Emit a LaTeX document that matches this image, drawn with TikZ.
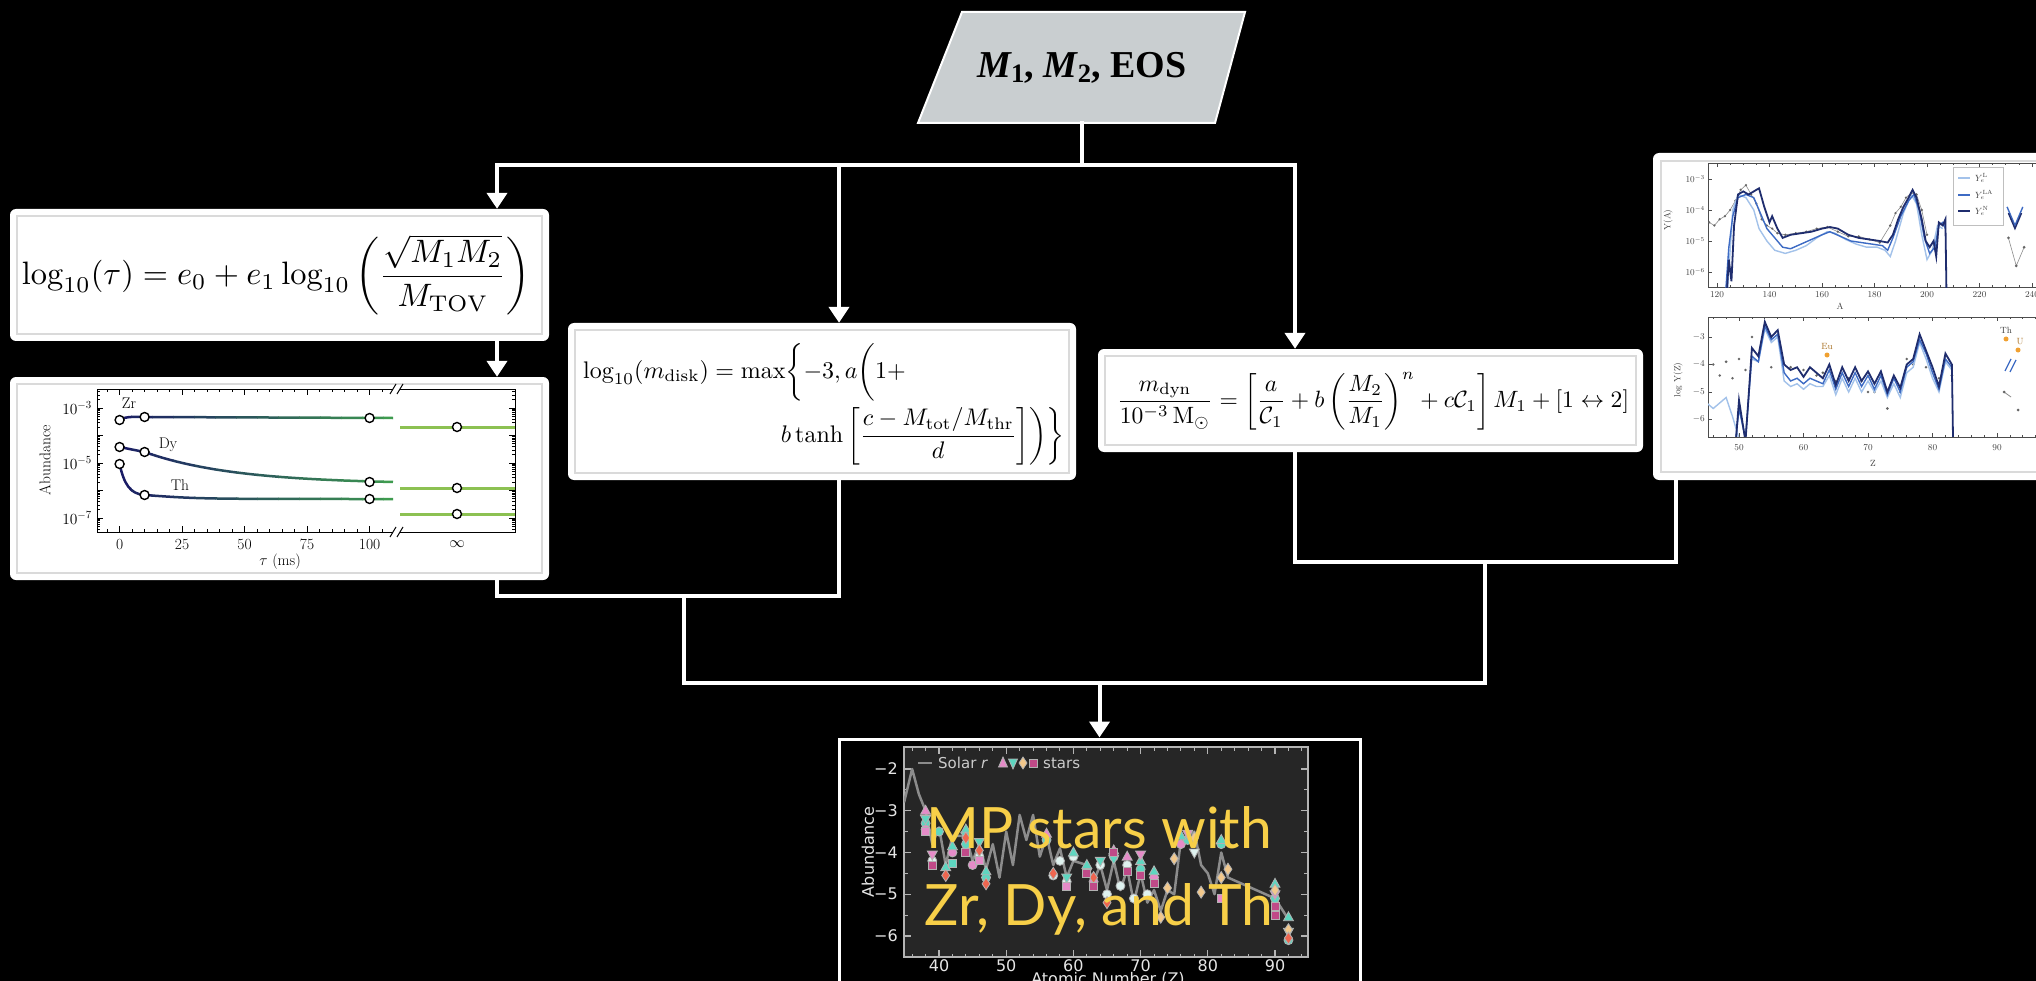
\RequirePackage{fix-cm}
\documentclass[tikz,border=0pt]{standalone}
\usepackage{fontspec}
\usepackage{graphicx}
\usetikzlibrary{arrows.meta,calc}
\newfontfamily\tnr{Liberation Serif}
\newfontfamily\gill{Lato}
\newfontfamily\dvs{DejaVu Sans}
\definecolor{pgray}{HTML}{C9CED0}
\definecolor{framegray}{HTML}{DADADA}
\definecolor{navyC}{HTML}{1A1C66}
\definecolor{grnC}{HTML}{3E9B4F}
\definecolor{ltgrn}{HTML}{8CC152}
\definecolor{mpy}{HTML}{F7CF48}
\definecolor{plotbg}{HTML}{262626}
\definecolor{axgray}{HTML}{B4B4B4}
\definecolor{solar}{HTML}{8C8C8C}
\definecolor{mpink}{HTML}{E58BC8}
\definecolor{mteal}{HTML}{5ED6C0}
\definecolor{mred}{HTML}{EE6650}
\definecolor{mcream}{HTML}{F2C88C}
\definecolor{mmauve}{HTML}{C04A88}
\definecolor{mwhite}{HTML}{DFF2EF}
\definecolor{bdark}{HTML}{1F2D6E}
\definecolor{bmed}{HTML}{3D6BC4}
\definecolor{blight}{HTML}{A3C2EA}
\definecolor{eu}{HTML}{F0A030}
\tikzset{
  conn/.style={draw=white,line width=4pt,line cap=rect,line join=miter},
  arr/.style={conn,-{Triangle[width=20pt,length=16pt]}},
  wbox/.style={fill=white,rounded corners=6pt,inner sep=0pt},
  iframe/.style={draw=framegray,line width=1.5pt},
  tk/.style={line width=0.8pt},
  circ/.style={fill=white,draw=black,line width=1.4pt},
  lbl/.style={inner sep=0pt,font=\fontsize{15.5}{18}\selectfont},
  tiny/.style={inner sep=0pt,text=black!75,font=\fontsize{9}{10}\selectfont},
  dlbl/.style={inner sep=0pt,text=black!10,font=\dvs\fontsize{16}{18}\selectfont},
  mk/.style={line width=0.8pt,draw=white!70!black}
}
\newcommand\bcurves{(119.6,420) .. controls (126,416) and (135,417) .. (144.6,417) -- (393,418)
  (119.6,447) -- (144.6,452) -- plot[domain=144.6:393,samples=40] (\x,{484-32*exp(-(\x-144.6)/90)})
  (119.6,464) .. controls (124,484) and (130,494) .. (144.6,495) .. controls (200,499) .. (393,499)}
\begin{document}
\begin{tikzpicture}[x=1pt,y=-1pt]
\useasboundingbox (0,0) rectangle (2036,981);
\fill[black] (0,0) rectangle (2036,981);

% ---------- input parallelogram ----------
\filldraw[fill=pgray,draw=white,line width=2pt] (918,123) -- (962,12) -- (1245,12) -- (1215,123) -- cycle;
\node[inner sep=0pt,minimum height=111pt,font=\tnr\fontsize{38}{44}\selectfont\bfseries] (in) at (1082,67.5)
  {\itshape M\upshape\textsubscript{1}, \itshape M\upshape\textsubscript{2}, EOS};

% ---------- boxes ----------
\node[wbox,minimum width=539pt,minimum height=132pt] (b1) at (279.5,275) {};
\node[wbox,minimum width=539pt,minimum height=203pt] (b2) at (279.5,478.5) {};
\node[wbox,minimum width=508pt,minimum height=157pt] (b3) at (822,401.5) {};
\node[wbox,minimum width=545pt,minimum height=103pt] (b4) at (1370.5,400.5) {};
\node[wbox,minimum width=407pt,minimum height=327pt] (b5) at (1856.5,316.5) {};
\node[draw=white,line width=3pt,fill=black,inner sep=0pt,minimum width=521pt,minimum height=261pt] (b6) at (1099.5,869.5) {};
\foreach \b in {b1,b2,b3,b4}
  \draw[iframe] ($(\b.south west)+(7pt,7pt)$) rectangle ($(\b.north east)+(-7pt,-7pt)$);

% ---------- equations ----------
\node[inner sep=0pt] (eq1) at (276,275) {\resizebox{508pt}{!}{$\displaystyle\log_{10}(\tau)=e_0+e_1\log_{10}\left(\frac{\sqrt{M_1M_2}}{M_{\mathrm{TOV}}}\right)$}};
\node[inner sep=0pt,anchor=base west] (eq3a) at (583,378) {\scalebox{2.4}{$\displaystyle\log_{10}(m_{\rm disk})=\max\biggl\{-3,a\biggl(1+$}};
\node[inner sep=0pt,anchor=base east] (eq3b) at (1065,442) {\scalebox{2.4}{$\displaystyle b\tanh\left[\frac{c-M_{\rm tot}/M_{\rm thr}}{d}\right]\biggr)\biggr\}$}};
\node[inner sep=0pt] (eq4) at (1373,401) {\resizebox{512pt}{!}{$\displaystyle\frac{m_{\rm dyn}}{10^{-3}\,\mathrm{M}_\odot}=\left[\frac{a}{\mathcal{C}_1}+b\left(\frac{M_2}{M_1}\right)^{n}+c\mathcal{C}_1\right]M_1+[1\leftrightarrow2]$}};

% ---------- box 2 plot ----------
\draw[tk,line width=1pt] (393,389) -- (97,389) -- (97,532) -- (393,532);
\draw[tk,line width=1pt] (400,389) -- (515,389) -- (515,532) -- (400,532);
\foreach \xx in {393,400} \foreach \yy in {389,532} \draw[line width=1pt] (\xx-3,\yy+5) -- (\xx+3,\yy-5);
\foreach \t in {0,25,...,100} {\draw[tk] ({119.6+2.5*\t},532) -- ++(0,-6); \draw[tk] ({119.6+2.5*\t},389) -- ++(0,6);}
\foreach \t in {-5,0,...,105} {\draw[tk] ({119.6+2.5*\t},532) -- ++(0,-3); \draw[tk] ({119.6+2.5*\t},389) -- ++(0,3);}
\foreach \L in {-3,-4,-5,-6,-7} {\draw[tk] (97,{408-27.5*(\L+3)}) -- ++(6,0); \draw[tk] (515,{408-27.5*(\L+3)}) -- ++(-6,0);}
\begin{scope}
\clip (97,389) rectangle (515,532);
\foreach \L in {-3,-4,-5,-6,-7,-8} \foreach \m in {2,...,9} {
  \pgfmathsetmacro\yy{408-27.5*(\L+log10(\m)+3)}
  \draw[tk,line width=0.6pt] (97,\yy) -- ++(3,0);
  \draw[tk,line width=0.6pt] (515,\yy) -- ++(-3,0);
}
\end{scope}
\foreach \L/\s in {-3/408,-5/463,-7/518} \node[lbl,anchor=east] at (92,\s) {$10^{\L}$};
\foreach \t in {0,25,50,75,100} \node[lbl] at ({119.6+2.5*\t},544) {\t};
\node[lbl] at (457,544) {$\infty$};
\node[lbl] at (280,562) {$\tau$ (ms)};
\node[lbl,rotate=90] at (45,460) {Abundance};
\foreach \i in {0,...,13} {
  \pgfmathsetmacro\xa{110+\i*21}
  \pgfmathsetmacro\pc{\i*100/13}
  \begin{scope}
    \clip (\xa,380) rectangle ({\xa+21.5},540);
    \draw[grnC!\pc!navyC,line width=2.5pt] \bcurves;
  \end{scope}
}
\foreach \yy in {427,488,514} \draw[ltgrn,line width=3pt] (400,\yy) -- (515,\yy);
\foreach \p in {(119.6,420),(144.6,417),(369.6,418),(119.6,447),(144.6,452),(369.6,482),(119.6,464),(144.6,495),(369.6,499),(457,427),(457,488),(457,514)}
  \draw[circ] \p circle[radius=4.5pt];
\node[lbl] at (129,403) {Zr};
\node[lbl] at (168,445) {Dy};
\node[lbl] at (180,485) {Th};

% ---------- box 5 plot ----------
\begin{scope}
\clip (1650,150) rectangle (2036,484);
\draw[iframe] (1661,161) rectangle (2060,472);
\begin{scope}[x=2.625pt,y=31pt,xshift=1402pt,yshift=-86pt]
  \draw[tk,black!70] (250,-2.484) -- (116.57,-2.484) -- (116.57,-6.484) -- (250,-6.484);
  \foreach \a in {120,140,...,240} {\draw[tk,black!70] (\a,-6.484) -- ++(0,4pt); \draw[tk,black!70] (\a,-2.484) -- ++(0,-4pt);
     \node[tiny] at ($(\a,-6.484)+(0,-8pt)$) {\a};}
  \foreach \a in {120,125,...,245} {\draw[tk,black!70] (\a,-6.484) -- ++(0,2pt); \draw[tk,black!70] (\a,-2.484) -- ++(0,-2pt);}
  \foreach \l in {-3,-4,-5,-6} {\draw[tk,black!70] (116.57,\l) -- ++(4pt,0); \node[tiny,anchor=east] at ($(116.57,\l)+(-3pt,0)$) {$10^{\l}$};}
  \begin{scope}
  \clip (116.57,-2.484) rectangle (250,-6.484);
  \draw[solar,line width=0.6pt] plot coordinates {(117,-4.4) (119,-4.5) (121,-4.3) (123,-4.2) (125,-4.0) (127,-3.7) (129,-3.35) (131,-3.2) (133,-3.5) (135,-3.8) (137,-4.3) (139,-4.5) (141,-4.6) (143,-4.75) (146,-4.8) (150,-4.75) (154,-4.7) (158,-4.6) (162,-4.55) (166,-4.7) (170,-4.85) (174,-4.85) (178,-4.95) (182,-5.05) (186,-4.5) (188,-4.1) (190,-3.9) (192,-3.6) (194,-3.45) (196,-3.5) (198,-4.0) (200,-4.8)};
  \foreach \p in {(117,-4.4),(119,-4.5),(121,-4.3),(123,-4.2),(125,-4.0),(127,-3.7),(129,-3.35),(131,-3.2),(133,-3.5),(135,-3.8),(137,-4.3),(139,-4.5),(141,-4.6),(143,-4.75),(146,-4.8),(150,-4.75),(154,-4.7),(158,-4.6),(162,-4.55),(166,-4.7),(170,-4.85),(174,-4.85),(178,-4.95),(182,-5.05),(186,-4.5),(188,-4.1),(190,-3.9),(192,-3.6),(194,-3.45),(196,-3.5),(198,-4.0),(200,-4.8)}
    \fill[black!60] \p circle[radius=1.3pt];
  \draw[blight,line width=1.4pt] plot coordinates {(124,-6.6) (126,-4) (128,-3.5) (131,-3.6) (134,-4.0) (136,-4.6) (139,-5.0) (142,-5.3) (146,-5.4) (150,-5.3) (154,-5.15) (158,-4.9) (162,-4.7) (165,-4.75) (169,-4.95) (173,-5.1) (177,-5.2) (181,-5.2) (184,-5.3) (186,-5.5) (188,-5.0) (191,-4.1) (194,-3.5) (196,-3.8) (198,-4.8) (200,-5.6) (202,-5.3) (204,-4.5) (206,-4.6)};
  \draw[bmed,line width=1.4pt] plot coordinates {(123,-7) (124.5,-5.2) (126,-4.2) (128,-3.6) (131,-3.5) (134,-3.6) (137,-4.2) (139,-4.6) (142,-4.9) (145,-5.2) (148,-5.25) (152,-5.1) (156,-4.95) (160,-4.8) (163,-4.7) (167,-4.85) (171,-5.0) (175,-5.05) (179,-5.1) (183,-5.15) (185,-5.3) (187,-4.9) (190,-4.2) (193,-3.7) (195,-3.5) (197,-4.0) (199,-4.9) (201,-5.4) (203,-5.2) (204.5,-4.5) (206,-4.4) (207,-4.6)};
  \draw[bdark,line width=1.8pt] plot coordinates {(123.5,-7.0) (124.5,-5.6) (125.5,-6.3) (126.5,-4.5) (128,-3.5) (130,-3.4) (132,-3.5) (134,-3.4) (136,-3.3) (138,-3.9) (140,-4.4) (141,-4.2) (143,-4.6) (145,-4.9) (148,-4.8) (152,-4.75) (156,-4.7) (160,-4.6) (163,-4.55) (166,-4.6) (170,-4.8) (174,-4.9) (178,-4.95) (182,-5.0) (185,-5.05) (187,-4.8) (189,-4.3) (191,-3.9) (193,-3.6) (194.5,-3.35) (196,-3.6) (198,-4.3) (199.5,-5.0) (201,-5.2) (202.5,-5.0) (203.5,-5.5) (204.5,-4.4) (206,-4.5) (207,-4.3) (207.5,-7.2)};
  \draw[bmed,line width=1.4pt] plot coordinates {(230.5,-3.9) (233.5,-4.5) (236.5,-3.9)};
  \draw[bdark,line width=1.4pt] plot coordinates {(231,-4.1) (233.5,-4.6) (236,-4.1)};
  \draw[solar,line width=0.6pt] plot coordinates {(231,-4.9) (234,-5.8) (237,-5.2)};
  \foreach \p in {(231,-4.9),(234,-5.8),(237,-5.2)} \fill[black!60] \p circle[radius=1.5pt];
  \end{scope}
\end{scope}
\node[tiny] at (1840,306) {A};
\node[tiny,rotate=90] at (1668,220) {Y(A)};
\draw[fill=white,draw=black!25,line width=0.6pt] (1953,167) rectangle (2003,225);
\draw[blight,line width=1.2pt] (1958,178) -- (1970,178);
\draw[bmed,line width=1.6pt] (1958,195) -- (1970,195);
\draw[bdark,line width=2pt] (1958,211) -- (1970,211);
\node[tiny,anchor=west] at (1975,178) {$Y_e^{\rm L}$};
\node[tiny,anchor=west] at (1975,195) {$Y_e^{\rm LA}$};
\node[tiny,anchor=west] at (1975,211) {$Y_e^{\rm N}$};
\begin{scope}[x=6.45pt,y=27.5pt,xshift=1416.5pt,yshift=-254.5pt]
  \draw[tk,black!70] (100,-2.273) -- (45.19,-2.273) -- (45.19,-6.636) -- (100,-6.636);
  \foreach \z in {50,60,...,90} {\draw[tk,black!70] (\z,-6.636) -- ++(0,4pt); \draw[tk,black!70] (\z,-2.273) -- ++(0,-4pt);
     \node[tiny] at ($(\z,-6.636)+(0,-11pt)$) {\z};}
  \foreach \z in {46,48,...,98} {\draw[tk,black!70] (\z,-6.636) -- ++(0,2pt); \draw[tk,black!70] (\z,-2.273) -- ++(0,-2pt);}
  \foreach \l in {-3,-4,-5,-6} {\draw[tk,black!70] (45.19,\l) -- ++(4pt,0); \node[tiny,anchor=east] at ($(45.19,\l)+(-3pt,0)$) {$\l$};}
  \begin{scope}
  \clip (45.19,-2.273) rectangle (100,-6.636);
  \foreach \p in {(46,-4.0),(47,-4.4),(48,-3.9),(49,-4.5),(50,-3.8),(51,-4.2),(52,-3.0),(55,-4.1),(56,-3.0),(58,-4.1),(60,-4.2),(62,-4.4),(63,-4.3),(65,-4.6),(67,-4.5),(69,-4.6),(70,-5.0),(71,-5.0),(73,-5.6),(75,-5.0),(76,-3.8),(77,-4.0),(79,-4.1),(81,-4.5),(82,-3.7),(83,-4.4)}
    \fill[black!60] \p circle[radius=1.4pt];
  \draw[blight,line width=1.4pt] plot coordinates {(45,-5.4) (46,-5.6) (47,-5.4) (48,-5.2) (49,-5.9) (50,-6.7)};
  \draw[blight,line width=1.4pt] plot coordinates {(52,-3.8) (53,-3.9) (54,-2.7) (55,-3.2) (56,-3.0) (57,-4.6) (58,-4.8) (59,-4.7) (60,-4.9) (61,-4.7) (62,-4.8) (63,-4.8) (64,-4.4) (65,-5.1) (66,-4.5) (67,-5.0) (68,-4.5) (69,-5.0) (70,-4.6) (71,-5.0) (72,-4.6) (73,-5.2) (74,-4.7) (75,-5.2) (76,-4.3) (77,-4.1) (78,-3.2) (79,-3.8) (80,-4.5) (81,-5.0) (82,-3.9) (83,-4.2)};
  \draw[bmed,line width=1.4pt] plot coordinates {(49.5,-6.7) (50,-5.6) (51,-6.7) (52,-3.7) (53,-3.9) (54,-2.6) (55,-3.1) (56,-2.9) (57,-4.3) (58,-4.6) (59,-4.5) (60,-4.7) (61,-4.5) (62,-4.6) (63,-4.7) (64,-4.2) (65,-4.9) (66,-4.3) (67,-4.8) (68,-4.3) (69,-4.8) (70,-4.4) (71,-4.9) (72,-4.4) (73,-5.1) (74,-4.5) (75,-5.0) (76,-4.1) (77,-3.9) (78,-3.1) (79,-3.6) (80,-4.3) (81,-4.9) (82,-3.8) (83,-4.1)};
  \draw[bdark,line width=1.8pt] plot coordinates {(49.5,-6.8) (50,-5.3) (51,-6.8) (52,-3.4) (53,-3.7) (54,-2.45) (55,-3.0) (56,-2.75) (57,-4.0) (58,-4.2) (59,-4.1) (60,-4.45) (61,-4.1) (62,-4.3) (63,-4.5) (64,-4.0) (65,-4.75) (66,-4.1) (67,-4.6) (68,-4.1) (69,-4.6) (70,-4.25) (71,-4.7) (72,-4.25) (73,-5.0) (74,-4.4) (75,-4.85) (76,-4.0) (77,-3.8) (78,-2.9) (79,-3.5) (80,-4.1) (81,-4.8) (82,-3.6) (83,-4.0) (83.2,-7.0)};
  \end{scope}
\end{scope}
\node[tiny] at (1873,463) {Z};
\node[tiny,rotate=90] at (1678,380) {log Y(Z)};
\fill[eu] (1827,355) circle[radius=2.5pt];
\node[tiny,text=eu!70!black] at (1827,346) {Eu};
\fill[eu] (2006,339) circle[radius=2.5pt];
\node[tiny] at (2006,330) {Th};
\fill[eu] (2018,350) circle[radius=2.5pt];
\node[tiny,text=eu!70!black] at (2020,342) {U};
\draw[bmed,line width=1.2pt] (2005,371) -- (2011,359) (2010,372) -- (2016,360);
\draw[solar,line width=0.8pt] (2004,392) -- (2011,397);
\fill[black!60] (2004,392) circle[radius=1.5pt] (2018,410) circle[radius=1.5pt];
\end{scope}

% ---------- box 6 plot ----------
\begin{scope}
\clip (841,741) rectangle (1358,981);
\begin{scope}[x=6.72pt,y=41.75pt,xshift=670.2pt,yshift=-685.5pt]
  \fill[plotbg] (34.79,-1.473) rectangle (94.9,-6.503);
  \draw[axgray,line width=1.5pt] (34.79,-1.473) rectangle (94.9,-6.503);
  \foreach \z in {40,50,...,90} {\draw[axgray,line width=1.2pt] (\z,-6.503) -- ++(0,7pt); \draw[axgray,line width=1.2pt] (\z,-1.473) -- ++(0,-7pt);}
  \foreach \z in {36,38,...,94} {\draw[axgray,line width=1pt] (\z,-6.503) -- ++(0,3.5pt); \draw[axgray,line width=1pt] (\z,-1.473) -- ++(0,-3.5pt);}
  \foreach \l in {-2,-3,-4,-5,-6} {\draw[axgray,line width=1.2pt] (34.79,\l) -- ++(7pt,0); \draw[axgray,line width=1.2pt] (94.9,\l) -- ++(-7pt,0);}
  \foreach \l in {-2.5,-3.5,-4.5,-5.5} {\draw[axgray,line width=1pt] (34.79,\l) -- ++(3.5pt,0); \draw[axgray,line width=1pt] (94.9,\l) -- ++(-3.5pt,0);}
  \foreach \l/\t in {-2/−2,-3/−3,-4/−4,-5/−5,-6/−6} \node[dlbl,anchor=east] at ($(34.79,\l)+(-6pt,0)$) {\t};
  \foreach \z in {40,50,...,90} \node[dlbl] at ($(\z,-6.503)+(0,-9pt)$) {\z};
  \begin{scope}
  \clip (34.79,-1.473) rectangle (94.9,-6.503);
  \draw[solar,line width=2.5pt,line join=round] plot coordinates {(34.8,-2.8) (36,-2.0) (37,-2.6) (38,-3.0) (39,-3.8) (40,-3.4) (41,-4.3) (42,-3.6) (44,-3.6) (45,-4.2) (46,-3.8) (47,-4.4) (48,-3.8) (49,-4.6) (50,-3.5) (51,-4.3) (52,-3.1) (53,-3.7) (54,-3.1) (55,-4.1) (56,-3.6) (57,-4.3) (58,-3.9) (59,-4.6) (60,-4.2) (62,-4.3) (63,-4.7) (64,-4.3) (65,-4.9) (66,-4.2) (67,-4.9) (68,-4.4) (69,-5.2) (70,-4.5) (71,-5.2) (72,-4.9) (73,-5.4) (74,-4.9) (75,-5.0) (76,-3.7) (77,-3.6) (78,-3.5) (79,-4.3) (80,-4.5) (81,-5.0) (82,-4.0) (83,-4.6) (90,-5.1) (92,-5.6)};
  % circles
  \foreach \z/\l/\c in {38/-3.3/mteal,38/-3.45/mpink,39/-4.2/mwhite,40/-3.5/mteal,42/-4.0/mpink,44/-3.8/mteal,45/-4.3/mpink,46/-4.1/mwhite,47/-4.6/mteal,56/-3.7/mteal,57/-4.55/mwhite,58/-4.2/mwhite,59/-4.7/mwhite,60/-4.1/mwhite,62/-4.4/mwhite,63/-4.7/mpink,64/-4.3/mwhite,65/-5.0/mwhite,66/-4.1/mteal,67/-4.8/mwhite,68/-4.3/mwhite,69/-5.1/mwhite,70/-4.4/mteal,71/-5.0/mwhite,72/-4.6/mpink,76/-3.8/mpink,77/-3.7/mteal,82/-3.8/mteal,90/-5.1/mteal,92/-6.1/mteal}
    \filldraw[mk,fill=\c] (\z,\l) circle[radius=4.5pt];
  % up triangles
  \foreach \z/\l/\c in {38/-3.0/mpink,41/-4.35/mteal,42/-3.85/mteal,44/-3.45/mteal,47/-4.45/mteal,56/-3.55/mpink,60/-4.0/mteal,62/-4.3/mteal,66/-3.95/mpink,68/-4.1/mpink,70/-4.2/mteal,72/-4.45/mteal,76/-3.6/mteal,82/-3.7/mteal,90/-4.75/mteal,92/-5.55/mteal}
    \filldraw[mk,fill=\c,shift={(\z,\l)}] (0pt,5.5pt) -- (-5pt,-3.5pt) -- (5pt,-3.5pt) -- cycle;
  % down triangles
  \foreach \z/\l/\c in {38/-3.2/mteal,39/-4.05/mpink,44/-3.6/mteal,46/-3.75/mteal,59/-4.6/mteal,64/-4.2/mteal,66/-4.15/mteal,70/-4.05/mpink,77/-3.55/mpink,78/-4.0/mwhite,90/-5.0/mpink,92/-5.9/mteal}
    \filldraw[mk,fill=\c,shift={(\z,\l)}] (0pt,-5.5pt) -- (-5pt,3.5pt) -- (5pt,3.5pt) -- cycle;
  % diamonds
  \foreach \z/\l/\c in {41/-4.55/mred,44/-3.65/mred,46/-3.95/mred,47/-4.75/mred,65/-5.2/mred,73/-5.55/mcream,74/-4.85/mcream,75/-4.15/mcream,78/-3.65/mcream,79/-4.95/mcream,82/-4.6/mcream,83/-4.4/mcream,90/-4.9/mcream,92/-5.85/mcream,92/-6.05/mred,63/-4.6/mred,57/-4.5/mred}
    \filldraw[mk,fill=\c,shift={(\z,\l)}] (0pt,6pt) -- (-4pt,0pt) -- (0pt,-6pt) -- (4pt,0pt) -- cycle;
  % squares
  \foreach \z/\l/\c in {38/-3.5/mpink,39/-4.3/mmauve,42/-4.25/mteal,44/-4.0/mmauve,46/-4.2/mpink,63/-4.8/mmauve,66/-4.0/mmauve,68/-4.45/mmauve,70/-4.55/mmauve,72/-4.75/mmauve,82/-5.1/mpink,90/-5.3/mmauve,90/-5.5/mmauve,59/-4.8/mpink,62/-4.5/mmauve}
    \filldraw[mk,fill=\c,shift={(\z,\l)}] (-4pt,-4pt) rectangle (4pt,4pt);
  \end{scope}
\end{scope}
\draw[solar,line width=2.5pt] (918,763) -- (932,763);
\node[dlbl,anchor=west,text=black!20,font=\dvs\fontsize{15}{17}\selectfont] at (938,763) {Solar \textit{r}};
\filldraw[mk,fill=mpink] (1003,757) -- (998.5,767) -- (1007.5,767) -- cycle;
\filldraw[mk,fill=mteal] (1013,769) -- (1008.5,759) -- (1017.5,759) -- cycle;
\filldraw[mk,fill=mcream] (1023,757) -- (1019,763) -- (1023,769) -- (1027,763) -- cycle;
\filldraw[mk,fill=mmauve] (1029,759) rectangle (1037,767);
\node[dlbl,anchor=west,text=black!20,font=\dvs\fontsize{15}{17}\selectfont] at (1043,763) {stars};
\node[dlbl,rotate=90] at (868,852) {Abundance};
\node[dlbl,anchor=north] at (1108,972) {Atomic Number (Z)};
\node[inner sep=0pt,anchor=base,text=mpy,font=\gill\fontsize{57}{60}\selectfont] (t1) at (1099,848) {MP stars with};
\node[inner sep=0pt,anchor=base,text=mpy,font=\gill\fontsize{57}{60}\selectfont] (t2) at (1099,925) {Zr, Dy, and Th};
\end{scope}

% ---------- connectors ----------
\coordinate (busC) at (1082,165);
\coordinate (busL) at (497,165);
\coordinate (busM) at (839,165);
\coordinate (busR) at (1295,165);
\coordinate (lowL) at (497,596);
\coordinate (lowM) at (839,596);
\coordinate (dropL) at (684,596);
\coordinate (botL) at (684,683);
\coordinate (botR) at (1485,683);
\coordinate (dropR) at (1485,562);
\coordinate (lowR) at (1295,562);
\coordinate (lowR5) at (1676,562);
\draw[conn] (in.south) -- (busC);
\draw[conn] (busL) -- (busR);
\draw[arr] (busL) -- (busL |- b1.north);
\draw[arr] (busM) -- (busM |- b3.north);
\draw[arr] (busR) -- (busR |- b4.north);
\draw[arr] (busL |- b1.south) -- (busL |- b2.north);
\draw[conn] (busL |- b2.south) -- (lowL) -- (lowM) -- (busM |- b3.south);
\draw[conn] (busR |- b4.south) -- (lowR) -- (lowR5) -- (lowR5 |- b5.south);
\draw[conn] (dropL) -- (botL) -- (botR) -- (dropR);
\draw[arr] (b6.north |- botL) -- (b6.north);
\end{tikzpicture}
\end{document}
